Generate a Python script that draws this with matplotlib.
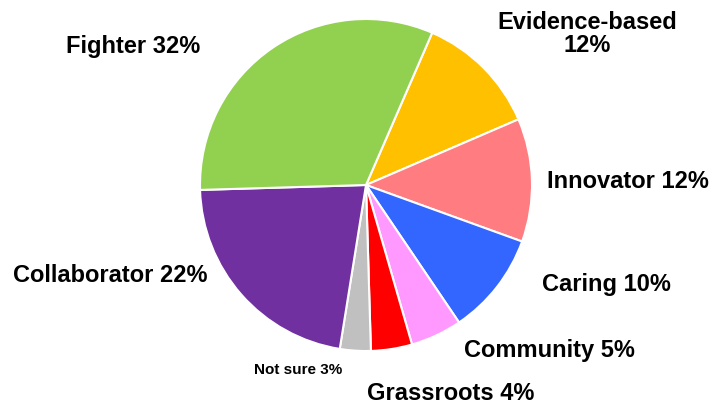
import matplotlib.pyplot as plt

plt.rcParams['font.family'] = ['Liberation Sans', 'DejaVu Sans']

categories = ['Evidence-based', 'Innovator', 'Caring', 'Community',
              'Grassroots', 'Not sure', 'Collaborator', 'Fighter']
shares = [12, 12, 10, 5, 4, 3, 22, 32]
colors = ['#FFC000', '#FF7C80', '#3366FF', '#FF99FF',
          '#FF0000', '#C0C0C0', '#7030A0', '#92D050']
label_texts = ['Evidence-based\n12%', 'Innovator 12%', 'Caring 10%', 'Community 5%',
               'Grassroots 4%', 'Not sure 3%', 'Collaborator 22%', 'Fighter 32%']

W, H = 709, 407
fig = plt.figure(figsize=(W / 100, H / 100), dpi=100)
ax = fig.add_axes([0, 0, 1, 1])
ax.set_xlim(0, W)
ax.set_ylim(0, H)
ax.set_aspect('equal')
ax.axis('off')

cx, cy, r = 366, H - 185, 166
ax.pie(shares, colors=colors, startangle=66.5, counterclock=False,
       center=(cx, cy), radius=r, frame=True,
       wedgeprops=dict(edgecolor='white', linewidth=1.5))
ax.set_xlim(0, W)
ax.set_ylim(0, H)
ax.axis('off')

# label placement (pixel coords, y from top)
label_pos = [(587, 34), (628, 181), (606, 285), (549, 351),
             (451, 394), (298, 370), (110, 276), (133, 47)]
for txt, (lx, ly), cat in zip(label_texts, label_pos, categories):
    fs = 11 if cat == 'Not sure' else 17
    ax.text(lx, H - ly, txt, ha='center', va='center', fontsize=fs,
            fontweight='bold', linespacing=1.05)

fig.savefig('out.png', dpi=100)
